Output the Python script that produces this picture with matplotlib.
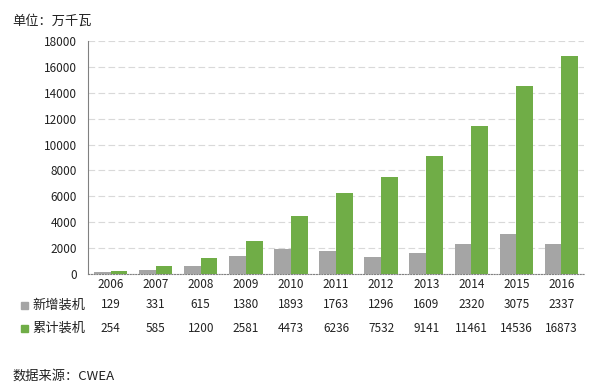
import matplotlib
matplotlib.use("Agg")
import matplotlib.pyplot as plt
import numpy as np
from matplotlib.transforms import blended_transform_factory

plt.rcParams['font.family'] = ['Noto Sans CJK SC', 'DejaVu Sans']

years = ['2006', '2007', '2008', '2009', '2010', '2011', '2012', '2013', '2014', '2015', '2016']
new_install = [129, 331, 615, 1380, 1893, 1763, 1296, 1609, 2320, 3075, 2337]
cumulative = [254, 585, 1200, 2581, 4473, 6236, 7532, 9141, 11461, 14536, 16873]
series_names = ['新增装机', '累计装机']
colors = ['#A5A5A5', '#70AD47']

fig = plt.figure(figsize=(6.05, 3.85), dpi=100)
ax = fig.add_axes([88/605, 1-274/385, 496/605, 233/385])

x = np.arange(len(years))
w = 0.37
ax.bar(x - w/2, new_install, width=w, color=colors[0], zorder=3)
ax.bar(x + w/2, cumulative, width=w, color=colors[1], zorder=3)

ax.set_xlim(-0.5, len(years) - 0.5)
ax.set_ylim(0, 18000)
ax.set_yticks(np.arange(0, 18001, 2000))
ax.tick_params(axis='y', length=0, labelsize=8.5, pad=8, labelcolor='#222222')
ax.set_xticks([])
ax.grid(axis='y', color='#D9D9D9', linestyle=(0, (6, 3)), linewidth=0.8, zorder=0)
for s in ['top', 'right']:
    ax.spines[s].set_visible(False)
ax.spines['left'].set_color('#808080')
ax.spines['left'].set_linewidth(0.8)
ax.spines['bottom'].set_color('#808080')
ax.spines['bottom'].set_linestyle((0, (1, 1.5)))
ax.spines['bottom'].set_linewidth(0.8)

trans = blended_transform_factory(ax.transData, ax.transAxes)
row_y = [(274-284)/233, (274-305)/233, (274-328)/233]
for i, yr in enumerate(years):
    ax.text(x[i], row_y[0], yr, transform=trans, ha='center', va='center', fontsize=8.5, color='#222222')
    ax.text(x[i], row_y[1], str(new_install[i]), transform=trans, ha='center', va='center', fontsize=8.5, color='#222222')
    ax.text(x[i], row_y[2], str(cumulative[i]), transform=trans, ha='center', va='center', fontsize=8.5, color='#222222')

for j, (name, c) in enumerate(zip(series_names, colors)):
    yy = 1 - [305, 328][j]/385
    fig.patches.append(plt.Rectangle((21/605, yy - 3.5/385), 7/605, 7/385, transform=fig.transFigure, color=c))
    fig.text(32/605, yy, name, ha='left', va='center', fontsize=9.5, color='#222222')

fig.text(12/605, 1-21/385, '单位：万千瓦', ha='left', va='center', fontsize=9.5, color='#222222')
fig.text(12/605, 1-376/385, '数据来源：CWEA', ha='left', va='center', fontsize=9.5, color='#222222')

fig.savefig('out.png', dpi=100)
